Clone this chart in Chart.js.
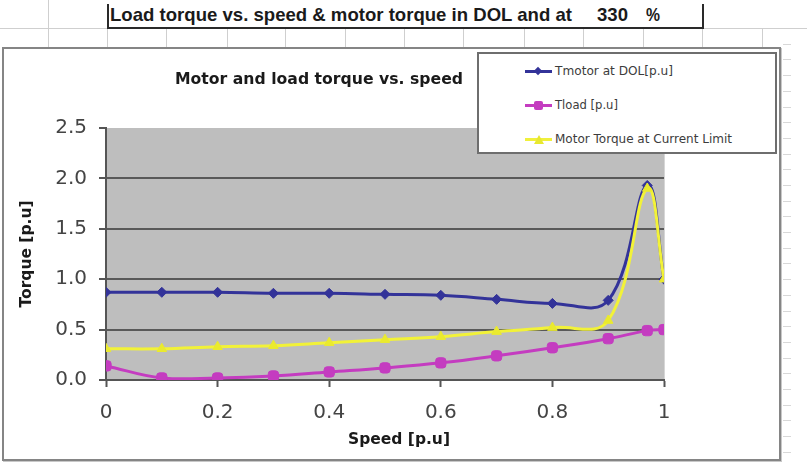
<!DOCTYPE html>
<html><head><meta charset="utf-8">
<script src="https://cdn.jsdelivr.net/npm/chart.js@4"></script>
<style>
html,body{margin:0;padding:0;background:#fff;}
#wrap{position:relative;width:807px;height:466px;overflow:hidden;background:#fff;}
.ln{position:absolute;background:#cfcfcf;}
.dk{position:absolute;background:#2a2a2a;}
.txt{position:absolute;white-space:nowrap;transform-origin:0 0;}
#chartBox{position:absolute;left:2px;top:47px;width:779px;height:414px;box-sizing:border-box;border:2px solid #858585;box-shadow:1px 1px 0 #c8c8c8;background:#fff;}
#legend{position:absolute;left:477px;top:52px;width:300px;height:102px;box-sizing:border-box;border:2px solid #6e6e6e;background:#fff;z-index:2;}
.lgline{position:absolute;height:3px;width:27px;left:46px;}
.lgt{position:absolute;left:76px;font:12px 'DejaVu Sans',sans-serif;line-height:12px;color:#3c3c3c;white-space:nowrap;transform-origin:0 0;}
canvas{position:absolute;left:0;top:0;z-index:1;}
</style></head><body>
<div id="wrap">
  <!-- spreadsheet grid -->
  <div class="ln" style="left:0;top:28px;width:807px;height:1px;"></div>
  <div class="ln" style="left:48px;top:0;width:1px;height:47px;"></div>
  <div class="ln" style="left:166px;top:28px;width:1px;height:19px;"></div>
  <div class="ln" style="left:227px;top:28px;width:1px;height:19px;"></div>
  <div class="ln" style="left:285px;top:28px;width:1px;height:19px;"></div>
  <div class="ln" style="left:345px;top:28px;width:1px;height:19px;"></div>
  <div class="ln" style="left:404px;top:28px;width:1px;height:19px;"></div>
  <div class="ln" style="left:463px;top:28px;width:1px;height:19px;"></div>
  <div class="ln" style="left:524px;top:28px;width:1px;height:19px;"></div>
  <div class="ln" style="left:583px;top:28px;width:1px;height:19px;"></div>
  <div class="ln" style="left:643px;top:28px;width:1px;height:19px;"></div>
  <div class="ln" style="left:762px;top:28px;width:1px;height:19px;"></div>
  <div class="ln" style="left:107px;top:28px;width:1px;height:19px;"></div>
  <div class="ln" style="left:702px;top:28px;width:1px;height:19px;"></div>
  <div id="rows"></div>
  <!-- header cell -->
  <div class="dk" style="left:107px;top:4px;width:2px;height:25px;"></div>
  <div class="dk" style="left:107px;top:27px;width:597px;height:2px;"></div>
  <div class="dk" style="left:702px;top:4px;width:2px;height:25px;"></div>
  <div id="h1" class="txt" style="left:110px;top:5px;font:bold 19px 'Liberation Sans Narrow','Liberation Sans',Arial,sans-serif;line-height:19px;color:#1a1a1a;">Load torque vs. speed &amp; motor torque in DOL and at</div>
  <div id="h2" class="txt" style="left:597px;top:5px;font:bold 19px 'Liberation Sans Narrow','Liberation Sans',Arial,sans-serif;line-height:19px;color:#1a1a1a;">330</div>
  <div id="h3" class="txt" style="left:646px;top:5px;font:bold 19px 'Liberation Sans Narrow','Liberation Sans',Arial,sans-serif;line-height:19px;color:#1a1a1a;">%</div>
  <!-- chart frame -->
  <div id="chartBox"></div>
  <div id="ctitle" class="txt" style="left:175px;top:72px;font:bold 15.5px 'DejaVu Sans',sans-serif;line-height:15.5px;color:#1a1a1a;z-index:2;">Motor and load torque vs. speed</div>
  <div id="xtitle" class="txt" style="left:348px;top:432px;font:bold 15.5px 'DejaVu Sans',sans-serif;line-height:15.5px;color:#1a1a1a;z-index:2;">Speed [p.u]</div>
  <canvas id="c" width="807" height="466"></canvas>
  <div id="legend">
    <div class="lgline" style="top:16px;background:#333399;"></div>
    <div style="position:absolute;left:56px;top:14px;width:6px;height:6px;background:#333399;transform:rotate(45deg);"></div>
    <div id="lg1" class="lgt" style="top:11px;">Tmotor at DOL[p.u]</div>
    <div class="lgline" style="top:50px;background:#c43cc0;"></div>
    <div style="position:absolute;left:55px;top:47px;width:9px;height:9px;border-radius:2px;background:#c43cc0;"></div>
    <div id="lg2" class="lgt" style="top:45px;">Tload [p.u]</div>
    <div class="lgline" style="top:84px;background:#f0f03c;"></div>
    <div style="position:absolute;left:55px;top:81px;width:0;height:0;border-left:5px solid transparent;border-right:5px solid transparent;border-bottom:9px solid #e8e830;"></div>
    <div id="lg3" class="lgt" style="top:79px;">Motor Torque at Current Limit</div>
  </div>
</div>
<script>
// ---- data ----
const speed      = [0, 0.1, 0.2, 0.3, 0.4, 0.5, 0.6, 0.7, 0.8, 0.9, 0.97, 1.0];
const tMotorDOL  = [0.87, 0.87, 0.87, 0.86, 0.86, 0.85, 0.84, 0.80, 0.76, 0.79, 1.93, 1.00];
const tLoad      = [0.14, 0.02, 0.02, 0.04, 0.08, 0.12, 0.17, 0.24, 0.32, 0.41, 0.49, 0.50];
const tMotorCL   = [0.31, 0.31, 0.33, 0.34, 0.37, 0.40, 0.43, 0.48, 0.52, 0.59, 1.90, 1.00];
const xTickValues = [0, 0.2, 0.4, 0.6, 0.8, 1];
const xTickLabels = ['0', '0.2', '0.4', '0.6', '0.8', '1'];
const yTickValues = [0, 0.5, 1, 1.5, 2, 2.5];
const yTickLabels = ['0.0', '0.5', '1.0', '1.5', '2.0', '2.5'];
const seriesNames = ['Tmotor at DOL[p.u]', 'Tload [p.u]', 'Motor Torque at Current Limit'];

// spreadsheet row lines peeking out on the right
(function(){
  const rows = document.getElementById('rows');
  for (let y = 43.7; y < 466; y += 15.7) {
    const d = document.createElement('div');
    d.className = 'ln';
    d.style.cssText = 'left:783px;top:' + Math.round(y) + 'px;width:8px;height:1px;background:#d8d8d8;';
    rows.appendChild(d);
  }
  const v = document.createElement('div');
  v.className = 'ln';
  v.style.cssText = 'left:762px;top:28px;width:28px;height:1px;';
  rows.appendChild(v);
})();

function fitW(id, w) {
  const e = document.getElementById(id);
  const r = e.getBoundingClientRect().width;
  if (r > 0) e.style.transform = 'scaleX(' + (w / r) + ')';
}
fitW('h1', 462); fitW('h2', 31); fitW('h3', 14);
fitW('ctitle', 288); fitW('xtitle', 102);
fitW('lg1', 118); fitW('lg2', 63); fitW('lg3', 177);

const pts = arr => speed.map((x, i) => ({x: x, y: arr[i]}));

const plotBg = {
  id: 'plotBg',
  beforeDraw(chart) {
    const a = chart.chartArea, ctx = chart.ctx;
    ctx.save();
    ctx.fillStyle = '#bebebe';
    ctx.fillRect(a.left, a.top, a.right - a.left, a.bottom - a.top);
    ctx.strokeStyle = '#d6d6d6';
    ctx.lineWidth = 1;
    ctx.beginPath();
    ctx.moveTo(a.right + 0.5, a.top);
    ctx.lineTo(a.right + 0.5, a.bottom);
    ctx.stroke();
    ctx.restore();
  }
};

new Chart(document.getElementById('c'), {
  type: 'line',
  data: {
    datasets: [
      {label: seriesNames[0], data: pts(tMotorDOL), borderColor: '#333399', backgroundColor: '#333399',
       pointBorderColor: '#333399', borderWidth: 3, pointStyle: 'rectRot', pointRadius: 5, pointBorderWidth: 1,
       tension: 0.4, order: 3},
      {label: seriesNames[1], data: pts(tLoad), borderColor: '#c43cc0', backgroundColor: '#c43cc0',
       pointBorderColor: '#c43cc0', borderWidth: 3, pointStyle: 'rectRounded', pointRadius: 6, pointBorderWidth: 1,
       tension: 0.4, order: 2},
      {label: seriesNames[2], data: pts(tMotorCL), borderColor: '#f2f238', backgroundColor: '#eaea2e',
       pointBorderColor: '#eaea2e', borderWidth: 3, pointStyle: 'triangle', pointRadius: 5.5, pointBorderWidth: 1,
       tension: 0.4, order: 1}
    ]
  },
  options: {
    responsive: false,
    animation: false,
    devicePixelRatio: 1,
    layout: {padding: {left: 0, top: 128, right: 143, bottom: 0}},
    plugins: {legend: {display: false}, tooltip: {enabled: false}, title: {display: false}},
    scales: {
      x: {
        type: 'linear', position: 'bottom', min: 0, max: 1,
        afterBuildTicks: s => { s.ticks = xTickValues.map(v => ({value: v})); },
        afterFit: s => { s.height = 86; },
        ticks: {callback: (v, i) => xTickLabels[i], font: {family: 'DejaVu Sans', size: 20}, color: '#444',
                padding: 14, maxRotation: 0, autoSkip: false},
        grid: {drawOnChartArea: false, drawTicks: true, tickLength: 7, tickWidth: 2, tickColor: '#555'},
        border: {display: true, color: '#555', width: 2}
      },
      y: {
        min: 0, max: 2.5,
        afterBuildTicks: s => { s.ticks = yTickValues.map(v => ({value: v})); },
        afterFit: s => { s.width = 106; },
        ticks: {callback: (v, i) => yTickLabels[i], font: {family: 'DejaVu Sans', size: 20}, color: '#444',
                padding: 12, autoSkip: false},
        grid: {color: c => (c.tick && c.tick.value === 2.5) ? 'rgba(0,0,0,0)' : '#595959', lineWidth: 2,
               drawTicks: true, tickLength: 7, tickWidth: 2, tickColor: '#555'},
        border: {display: true, color: '#555', width: 2},
        title: {display: true, text: 'Torque [p.u]', font: {family: 'DejaVu Sans', size: 15.5, weight: 'bold'},
                color: '#1a1a1a', padding: {top: 18, bottom: 0}}
      }
    }
  },
  plugins: [plotBg]
});
</script>
</body></html>
